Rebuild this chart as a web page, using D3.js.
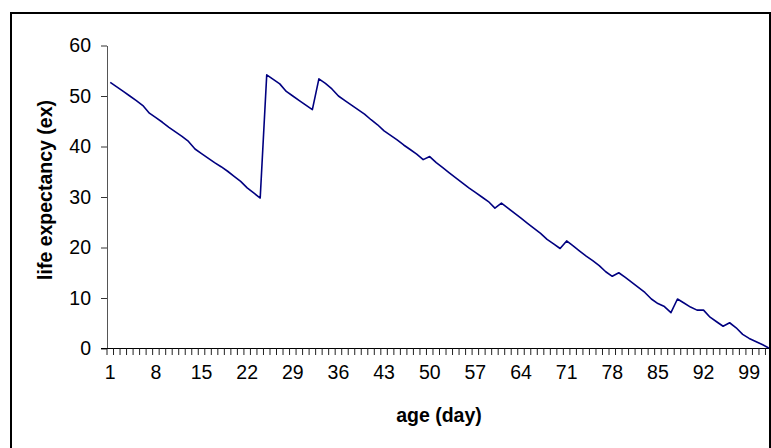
<!DOCTYPE html>
<html>
<head>
<meta charset="utf-8">
<script src="https://cdn.jsdelivr.net/npm/d3@7"></script>
<style>
  body { margin: 0; background: #fff; }
  svg { display: block; font-family: "Liberation Sans", Arial, sans-serif; }
</style>
</head>
<body>
<svg width="771" height="448"></svg>
<script>
// age in days, 1..102
const days = d3.range(1, 103);

// life expectancy (ex) per day
const lifeExpectancy = [
  52.7, 51.8, 50.9, 50.0, 49.1, 48.1, 46.6, 45.7, 44.8, 43.8,
  42.9, 42.0, 41.0, 39.5, 38.6, 37.7, 36.8, 36.0, 35.1, 34.1,
  33.1, 31.8, 30.8, 29.8, 54.2, 53.3, 52.4, 50.9, 50.0, 49.1,
  48.2, 47.3, 53.4, 52.5, 51.4, 50.0, 49.1, 48.2, 47.3, 46.4,
  45.3, 44.3, 43.1, 42.2, 41.3, 40.3, 39.4, 38.5, 37.4, 38.0,
  36.8, 35.8, 34.8, 33.8, 32.8, 31.8, 30.9, 30.0, 29.1, 27.8,
  28.8, 27.8, 26.8, 25.8, 24.8, 23.8, 22.8, 21.6, 20.7, 19.8,
  21.3, 20.3, 19.3, 18.3, 17.4, 16.4, 15.2, 14.3, 15.0, 14.1,
  13.1, 12.1, 11.1, 9.8, 8.9, 8.3, 7.1, 9.8, 9.0, 8.2,
  7.6, 7.6, 6.2, 5.3, 4.4, 5.1, 4.1, 2.8, 2.0, 1.4,
  0.8, 0.1
];

// labelled days on the x axis
const dayLabels = d3.range(1, 103, 7);
const yTicks = [0, 10, 20, 30, 40, 50, 60];

const data = days.map((d, i) => ({ day: d, ex: lifeExpectancy[i] }));

const svg = d3.select("svg");

// outer chart frame
svg.append("rect")
    .attr("x", 11)
    .attr("y", 13)
    .attr("width", 759)
    .attr("height", 460)
    .attr("fill", "none")
    .attr("stroke", "#000")
    .attr("stroke-width", 2);

const x = d3.scaleBand()
    .domain(days)
    .range([107, 772])
    .paddingInner(0)
    .paddingOuter(0);

const y = d3.scaleLinear()
    .domain([0, 60])
    .range([348.5, 45.5]);

const cx = d => x(d) + x.bandwidth() / 2;

// y axis
const yAxis = svg.append("g")
    .attr("transform", "translate(107,0)")
    .call(d3.axisLeft(y).tickValues(yTicks).tickSize(6).tickPadding(10).tickSizeOuter(0));
yAxis.select(".domain").attr("stroke", "#555");
yAxis.selectAll(".tick line").attr("stroke", "#333");
yAxis.selectAll("text")
    .attr("font-size", "19.5px")
    .attr("fill", "#000")
    .attr("font-family", "Liberation Sans, Arial, sans-serif");

// x axis: labels at category centres
const xAxis = svg.append("g")
    .attr("transform", "translate(0,348.5)")
    .call(d3.axisBottom(x).tickValues(dayLabels).tickSize(0).tickPadding(17).tickSizeOuter(0));
xAxis.select(".domain").remove();
xAxis.selectAll("text")
    .attr("font-size", "19.5px")
    .attr("fill", "#000")
    .attr("font-family", "Liberation Sans, Arial, sans-serif");

// x axis line and tick marks between categories
svg.append("line")
    .attr("x1", 101)
    .attr("x2", 772)
    .attr("y1", 348.5)
    .attr("y2", 348.5)
    .attr("stroke", "#000");

svg.append("g")
    .selectAll("line")
    .data(days.concat([103]))
    .join("line")
    .attr("x1", d => d <= 102 ? x(d) : x(102) + x.bandwidth())
    .attr("x2", d => d <= 102 ? x(d) : x(102) + x.bandwidth())
    .attr("y1", 348.5)
    .attr("y2", 355)
    .attr("stroke", "#222");

// series line
const line = d3.line()
    .x(d => cx(d.day))
    .y(d => y(d.ex));

svg.append("path")
    .datum(data)
    .attr("d", line)
    .attr("fill", "none")
    .attr("stroke", "#000080")
    .attr("stroke-width", 1.6)
    .attr("stroke-linejoin", "round");

// axis titles
svg.append("text")
    .attr("x", 439)
    .attr("y", 422)
    .attr("text-anchor", "middle")
    .attr("font-size", "19.5px")
    .attr("font-weight", "bold")
    .text("age (day)");

svg.append("text")
    .attr("transform", "translate(52,190) rotate(-90)")
    .attr("text-anchor", "middle")
    .attr("font-size", "19.5px")
    .attr("font-weight", "bold")
    .text("life expectancy (ex)");
</script>
</body>
</html>
